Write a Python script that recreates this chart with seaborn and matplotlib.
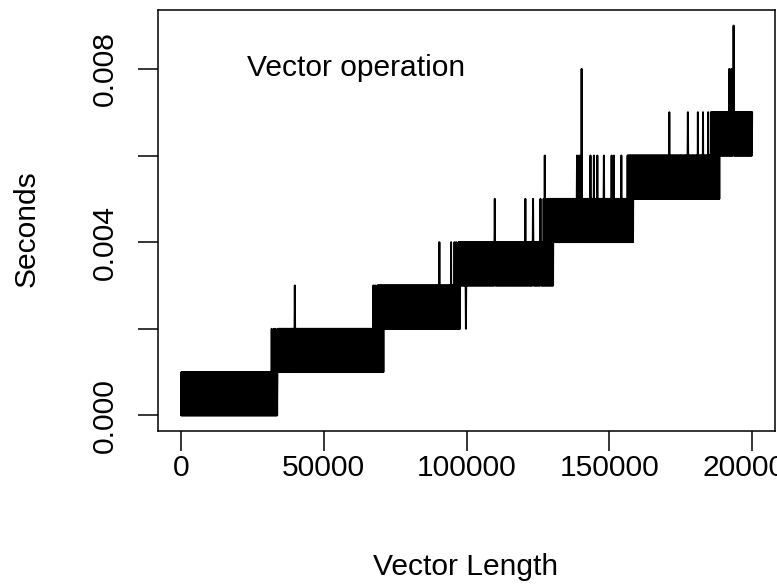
import numpy as np
import pandas as pd
import matplotlib
matplotlib.use("Agg")
import matplotlib.pyplot as plt
import seaborn as sns

# ---- data ----
# timing bands: each band is a run of measurements flickering between low and low+0.001 s
band_start = [0, 33900, 68800, 97200, 127000, 156300, 185500]
band_end = [33800, 70900, 97800, 130300, 158400, 188600, 200000]
band_low = [0.000, 0.001, 0.002, 0.003, 0.004, 0.005, 0.006]
band_step = 0.001

# isolated outliers (vector length, seconds)
spike_x = [31800, 32600, 33200, 39900, 67400, 68000, 90500, 94600, 95800, 96400,
           99800, 109900, 120600, 123300, 125900, 127400, 138700, 139400, 140000,
           140300, 143400, 144600, 145800, 148100, 150800, 151600, 154200,
           171000, 177500, 181000, 182800, 184600, 192000, 192800, 193500]
spike_y = [0.002, 0.002, 0.002, 0.003, 0.003, 0.003, 0.004, 0.004, 0.004, 0.004,
           0.002, 0.005, 0.005, 0.005, 0.005, 0.006, 0.006, 0.006, 0.006,
           0.008, 0.006, 0.006, 0.006, 0.006, 0.006, 0.006, 0.006,
           0.007, 0.007, 0.007, 0.007, 0.007, 0.008, 0.008, 0.009]

vec_len = list(range(100, 200001, 100))

x_ticks = [0, 50000, 100000, 150000, 200000]
x_ticklabels = ["0", "50000", "100000", "150000", "200000"]
y_ticks = [0.000, 0.002, 0.004, 0.006, 0.008]
y_ticklabels = ["0.000", "", "0.004", "", "0.008"]

# ---- build the measurement series ----
secs = []
for i, xv in enumerate(vec_len):
    lows = [lo for s, e, lo in zip(band_start, band_end, band_low) if s <= xv <= e]
    lo = min(lows)
    hi = max(lows) + band_step
    secs.append(lo if i % 2 == 0 else hi)
secs = np.array(secs)
xs = np.array(vec_len)
for sx, sy in zip(spike_x, spike_y):
    secs[int(np.argmin(np.abs(xs - sx)))] = sy
df = pd.DataFrame({"Vector Length": xs, "Seconds": secs})

# ---- figure ----
sns.set_style("ticks")
plt.rcParams["font.family"] = ["Liberation Sans", "DejaVu Sans"]
plt.rcParams["text.color"] = "black"
plt.rcParams["xtick.color"] = "black"
plt.rcParams["ytick.color"] = "black"
plt.rcParams["axes.edgecolor"] = "black"
W, H = 777, 587
fig = plt.figure(figsize=(W / 100, H / 100), dpi=100)
L, R, T, B = 158.0, 775.0, 10.0, 431.0
ax = fig.add_axes([L / W, 1 - B / H, (R - L) / W, (B - T) / H])

sns.lineplot(data=df, x="Vector Length", y="Seconds", ax=ax, color="black",
             linewidth=1.4, estimator=None, sort=False, antialiased=True)

ax.set_xlim(-8000, 208000)
ax.set_ylim(-0.00036, 0.00936)
ax.set_xticks(x_ticks)
ax.set_xticklabels(x_ticklabels)
ax.set_yticks(y_ticks)
ax.set_yticklabels(y_ticklabels, rotation=90, va="center")
fs = 21.6
ax.tick_params(axis="x", bottom=True, direction="out", length=14.4, width=1.1, pad=2.5,
               labelsize=fs, color="black", labelcolor="black")
ax.tick_params(axis="y", left=True, direction="out", length=14.4, width=1.1, pad=13.5,
               labelsize=fs, color="black", labelcolor="black")
for sp in ax.spines.values():
    sp.set_visible(True)
    sp.set_color("black")
    sp.set_linewidth(1.1)
ax.set_xlabel("")
ax.set_ylabel("")

ax.text(61500, 0.00784, "Vector operation", ha="center", va="baseline", fontsize=fs,
        color="black")
fig.text(466 / W, 1 - 575 / H, "Vector Length", ha="center", va="baseline", fontsize=fs,
         color="black")
fig.text(35 / W, 1 - 229 / H, "Seconds", ha="center", va="baseline", rotation=90,
         rotation_mode="anchor", fontsize=fs, color="black")

fig.savefig("out.png", dpi=100, facecolor="white")
